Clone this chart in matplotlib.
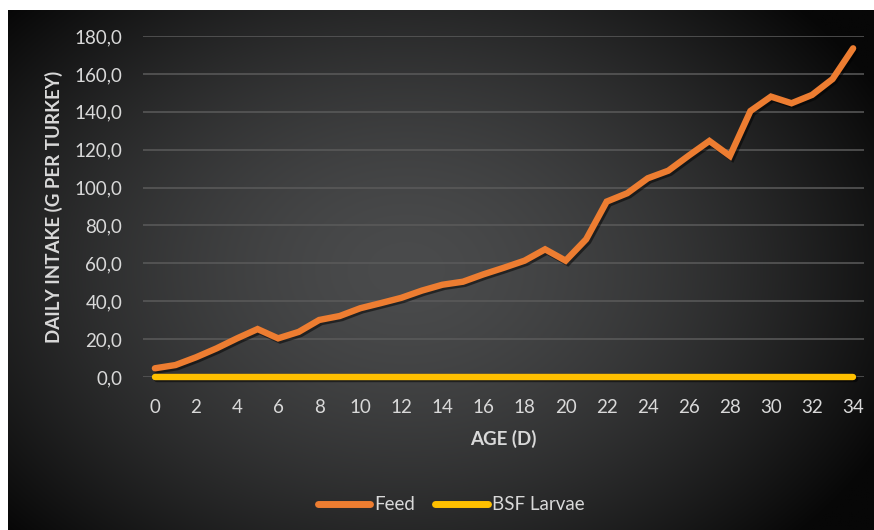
import numpy as np
import matplotlib
matplotlib.use("Agg")
import matplotlib.pyplot as plt
import matplotlib.patheffects as pe

plt.rcParams['font.family'] = ['Lato', 'DejaVu Sans']

# Daily intake per turkey by age
age_days = list(range(0, 35))
feed = [4.6, 6.3, 10.4, 15.1, 20.4, 25.3, 20.4, 23.8, 30.1, 32.2,
        36.3, 39.0, 41.8, 45.6, 48.7, 50.3, 54.2, 57.7, 61.4, 67.4,
        61.4, 72.7, 92.6, 97.0, 104.9, 108.9, 116.9, 124.6, 116.7, 140.4,
        148.0, 144.5, 148.9, 157.3, 173.5]
bsf_larvae = [0.0] * 35

x_ticks = list(range(0, 35, 2))
y_ticks = list(range(0, 181, 20))

W, H = 874, 530
fig = plt.figure(figsize=(W / 100, H / 100), dpi=100)
fig.patch.set_facecolor('white')

# Dark radial gradient panel
bg = fig.add_axes([8 / W, 0, (W - 8) / W, (H - 10) / H])
gx, gy = np.meshgrid(np.linspace(0, 1, 400), np.linspace(0, 1, 300))
r = np.sqrt(((gx - 0.46) / 0.62) ** 2 + ((gy - 0.50) / 0.75) ** 2)
r = np.clip(r, 0, 1)
c_in = np.array([0x4a, 0x4b, 0x4c]) / 255
c_out = np.array([0x07, 0x07, 0x07]) / 255
t = (r ** 1.6)[..., None]
img = c_in * (1 - t) + c_out * t
bg.imshow(img, aspect='auto', extent=[0, 1, 0, 1], origin='lower')
bg.set_axis_off()

ax = fig.add_axes([143 / W, (H - 377) / H, (864 - 143) / W, (377 - 36) / H])
ax.set_facecolor('none')
ax.set_xlim(-0.58, 34.53)
ax.set_ylim(0, 180)

for s in ax.spines.values():
    s.set_visible(False)

ax.set_yticks(y_ticks)
ax.set_yticklabels([f"{v:.1f}".replace('.', ',') for v in y_ticks])
ax.set_xticks(x_ticks)
ax.set_xticklabels([str(v) for v in x_ticks])
txt_col = '#d9d9d9'
ax.tick_params(axis='both', length=0, colors=txt_col, labelsize=13.5)
ax.tick_params(axis='y', pad=15)
ax.tick_params(axis='x', pad=16)
ax.grid(axis='y', color='#5b5b5b', linewidth=1.1)
ax.set_axisbelow(True)

lw = 4.6
shadow = [pe.SimpleLineShadow(offset=(1.5, -1.5), shadow_color='black', alpha=0.5),
          pe.Normal()]
ax.plot(age_days, feed, color='#ED7D31', linewidth=lw, solid_capstyle='round',
        solid_joinstyle='miter', label='Feed', path_effects=shadow, zorder=3)
ax.plot(age_days, bsf_larvae, color='#FFC000', linewidth=lw, solid_capstyle='round',
        label='BSF Larvae', path_effects=shadow, zorder=3, clip_on=False)

ax.set_xlabel('AGE (D)', color=txt_col, fontsize=13.5, fontweight='bold', labelpad=10)
ax.set_ylabel('DAILY INTAKE (G PER TURKEY)', color=txt_col, fontsize=13.5,
              fontweight='bold', labelpad=8)

leg = fig.legend(loc='center', bbox_to_anchor=(451 / W, (H - 505) / H), ncol=2,
                 frameon=False, fontsize=13.5, labelcolor=txt_col,
                 handlelength=2.8, handletextpad=0.2, columnspacing=1.1)
for line in leg.get_lines():
    line.set_linewidth(5.0)
    line.set_solid_capstyle('round')
    line.set_path_effects([])

fig.savefig('out.png', dpi=100, facecolor=fig.get_facecolor())
